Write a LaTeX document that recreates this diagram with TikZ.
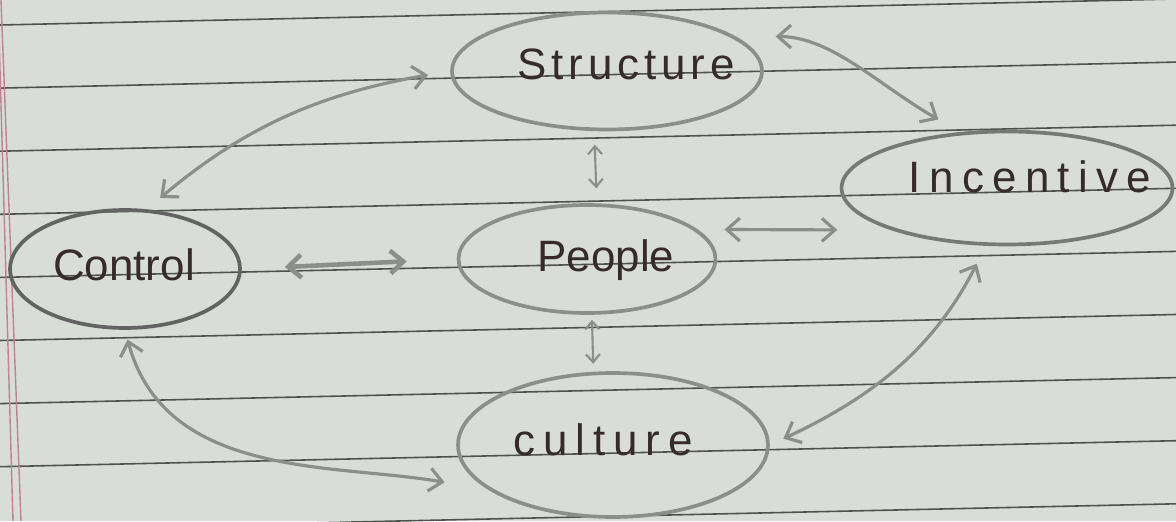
\documentclass[tikz,border=0pt]{standalone}
\usepackage{fontspec}
\setmainfont{Liberation Sans}
\usetikzlibrary{shapes.geometric,arrows.meta}
\definecolor{paper}{RGB}{216,221,215}
\definecolor{ruling}{RGB}{78,82,78}
\definecolor{redline}{RGB}{190,130,150}
\definecolor{pencil}{RGB}{140,142,140}
\definecolor{ink}{RGB}{55,42,42}
\tikzset{
  oval/.style={ellipse, draw=pencil, line width=2.1pt, inner sep=0pt},
  word/.style={text=ink, anchor=base, inner sep=0pt, font=\fontsize{25}{30}\selectfont},
  link/.style={draw=pencil, line width=1.8pt,
    {Straight Barb[length=2.6mm,width=4.6mm]}-{Straight Barb[length=2.6mm,width=4.6mm]}},
  tiny link/.style={link, line width=1.2pt,
    {Straight Barb[length=1.6mm,width=2.8mm]}-{Straight Barb[length=1.6mm,width=2.8mm]}},
}
\begin{document}
\begin{tikzpicture}[x=0.02cm, y=0.02cm]
	\fill[paper] (0,0) rectangle (1176,521);
	\useasboundingbox (0,0) rectangle (1176,521);
	\begin{scope}
	\clip (0,0) rectangle (1176,521);
	\foreach \i in {0,...,8}
	{ \draw[ruling, line width=0.9pt] (0, {496-63.1*\i}) -- (1176, {522-63.1*\i});
	}
	\draw[redline, line width=0.8pt] (-2,521) -- (13,0);
	\draw[redline, line width=0.8pt] (1,521) -- (21,0);
	\end{scope}

	\node[oval, minimum width=6.2cm, minimum height=2.34cm] (str) at (607,450) {};
	\node[oval, minimum width=6.62cm, minimum height=2.26cm, draw=pencil!85!black] (inc) at (1007,333) {};
	\node[oval, minimum width=4.6cm, minimum height=2.36cm, draw=pencil!70!black] (ctl) at (125,252) {};
	\node[oval, minimum width=5.14cm, minimum height=2.16cm] (ppl) at (587,262) {};
	\node[oval, minimum width=6.2cm, minimum height=2.88cm] (cul) at (613,76) {};

	\node[word] (strtext) at (626,441) {\addfontfeature{LetterSpace=11}Structure};
	\node[word] (inctext) at (1030,328) {\addfontfeature{LetterSpace=19}Incentive};
	\node[word] (ctltext) at (124,240) {Control};
	\node[word] (ppltext) at (606,249) {People};
	\node[word] (cultext) at (603,66) {\addfontfeature{LetterSpace=18}culture};

	\draw[link, shorten <=0.45cm, shorten >=0.35cm] (str.west) to[out=190, in=40] (ctl.70);
	\draw[link, shorten <=0.8cm, shorten >=0.5cm] (str.15) to[out=0, in=150] (inc.130);
	\draw[link, shorten <=0.2cm, shorten >=0.9cm] (ctl.south) to[out=-75, in=170] (cul.200);
	\draw[link, shorten <=0.4cm, shorten >=0.3cm] (inc.250) to[out=243, in=25] (cul.east);
	\draw[link, line width=2.6pt, shorten <=0.86cm, shorten >=1cm] (ctl.east) -- (ppl.west);
	\draw[link, shorten <=0.54cm, shorten >=1.08cm] (ppl.15) -- (inc.200);
	\draw[tiny link, shorten <=0.27cm, shorten >=0.3cm] (str.258) -- (ppl.80);
	\draw[tiny link, shorten <=0.1cm, shorten >=0.16cm] (ppl.275) -- (cul.105);
\end{tikzpicture}
\end{document}
